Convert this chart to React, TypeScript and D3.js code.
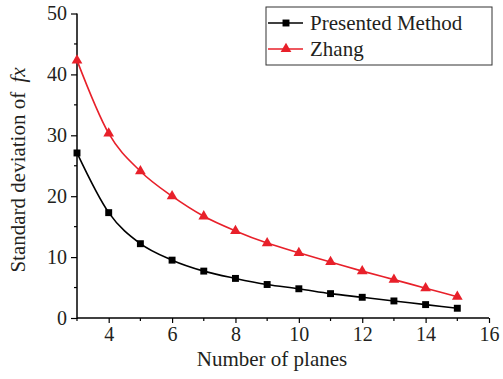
import React, { useEffect, useRef } from "react";
import * as d3 from "d3";

const planes = [3, 4, 5, 6, 7, 8, 9, 10, 11, 12, 13, 14, 15];
const presented = [27.1, 17.3, 12.2, 9.5, 7.7, 6.5, 5.5, 4.8, 4.0, 3.4, 2.8, 2.2, 1.6];
const zhang = [42.3, 30.3, 24.1, 20.0, 16.7, 14.3, 12.3, 10.7, 9.2, 7.7, 6.3, 4.9, 3.5];
const xTicks = [4, 6, 8, 10, 12, 14, 16];
const yTicks = [0, 10, 20, 30, 40, 50];

const W = 503;
const H = 379;
const FONT = "'Liberation Serif', 'Times New Roman', serif";
const RED = "#e8202a";

const App = () => {
  const svgRef = useRef<SVGSVGElement>(null);

  useEffect(() => {
    const svg = d3.select(svgRef.current);
    svg.selectAll("*").remove();

    const margin = { top: 13.5, right: 14, bottom: 61, left: 77 };
    const x = d3.scaleLinear().domain([3, 16]).range([margin.left, W - margin.right]);
    const y = d3.scaleLinear().domain([0, 50]).range([H - margin.bottom, margin.top]);

    const g = svg.append("g");

    // minor ticks
    const xMinor = d3.range(3, 17, 1).filter(v => v % 2 === 1);
    g.selectAll(".xminor").data(xMinor).enter().append("line")
      .attr("x1", d => x(d)).attr("x2", d => x(d))
      .attr("y1", y(0)).attr("y2", y(0) + 3)
      .attr("stroke", "#000").attr("stroke-width", 1.2);
    const yMinor = [5, 15, 25, 35, 45];
    g.selectAll(".yminor").data(yMinor).enter().append("line")
      .attr("x1", x(3) - 3).attr("x2", x(3))
      .attr("y1", d => y(d)).attr("y2", d => y(d))
      .attr("stroke", "#000").attr("stroke-width", 1.2);

    // x axis
    const xAxis = g.append("g")
      .attr("transform", `translate(0,${y(0)})`)
      .call(d3.axisBottom(x).tickValues(xTicks).tickSize(5).tickSizeOuter(0).tickPadding(4));
    xAxis.select(".domain").attr("stroke", "#000").attr("stroke-width", 1.5)
      .attr("d", `M${x(3)},0H${x(16)}`);
    xAxis.selectAll(".tick line").attr("stroke-width", 1.2);
    xAxis.selectAll("text")
      .style("font-family", FONT).style("font-size", "20px").attr("fill", "#231f20");

    // y axis
    const yAxis = g.append("g")
      .attr("transform", `translate(${x(3)},0)`)
      .call(d3.axisLeft(y).tickValues(yTicks).tickSize(6).tickSizeOuter(0).tickPadding(4));
    yAxis.select(".domain").attr("stroke", "#000").attr("stroke-width", 1.5)
      .attr("d", `M0,${y(0) + 1}V${y(50)}`);
    yAxis.selectAll(".tick line").attr("stroke-width", 1.2);
    yAxis.selectAll("text")
      .style("font-family", FONT).style("font-size", "20px").attr("fill", "#231f20");

    // axis titles
    svg.append("text")
      .attr("x", 272).attr("y", 366)
      .attr("text-anchor", "middle")
      .style("font-family", FONT).style("font-size", "21px").attr("fill", "#231f20")
      .text("Number of planes");

    const yt = svg.append("text")
      .attr("transform", `translate(25,170) rotate(-90)`)
      .attr("text-anchor", "middle")
      .style("font-family", FONT).style("font-size", "21px").attr("fill", "#231f20");
    yt.append("tspan").text("Standard deviation of ");
    yt.append("tspan").attr("dx", 4).style("font-style", "italic").text("fx");

    // lines
    const series = [
      { name: "Presented Method", values: presented, color: "#000", marker: "square" },
      { name: "Zhang", values: zhang, color: RED, marker: "triangle" },
    ];

    const line = d3.line<[number, number]>()
      .x(d => x(d[0])).y(d => y(d[1]))
      .curve(d3.curveMonotoneX);

    const square = d3.symbol().type(d3.symbolSquare).size(48);
    const triangle = d3.symbol().type(d3.symbolTriangle).size(50);

    series.forEach(s => {
      const pts: [number, number][] = planes.map((p, i) => [p, s.values[i]]);
      g.append("path")
        .attr("d", line(pts))
        .attr("fill", "none")
        .attr("stroke", s.color)
        .attr("stroke-width", 1.6);
      g.selectAll(null).data(pts).enter().append("path")
        .attr("transform", d => `translate(${x(d[0])},${y(d[1])})`)
        .attr("d", s.marker === "square" ? square() : triangle())
        .attr("fill", s.color);
    });

    // legend
    const lg = svg.append("g").attr("transform", "translate(266,7)");
    lg.append("rect")
      .attr("width", 226).attr("height", 58)
      .attr("fill", "#fff").attr("stroke", "#333").attr("stroke-width", 1);
    series.forEach((s, i) => {
      const cy = 16 + i * 26;
      lg.append("line")
        .attr("x1", 2).attr("x2", 37).attr("y1", cy).attr("y2", cy)
        .attr("stroke", s.color).attr("stroke-width", 1.6);
      lg.append("path")
        .attr("transform", `translate(20,${cy})`)
        .attr("d", s.marker === "square" ? square() : triangle())
        .attr("fill", s.color);
      lg.append("text")
        .attr("x", 44).attr("y", cy + 7)
        .style("font-family", FONT).style("font-size", "21px").attr("fill", "#231f20")
        .text(s.name);
    });
  }, []);

  return (
    <svg
      ref={svgRef}
      width={W}
      height={H}
      style={{ position: "absolute", left: 0, top: 0, background: "#fff" }}
    />
  );
};

export default App;
